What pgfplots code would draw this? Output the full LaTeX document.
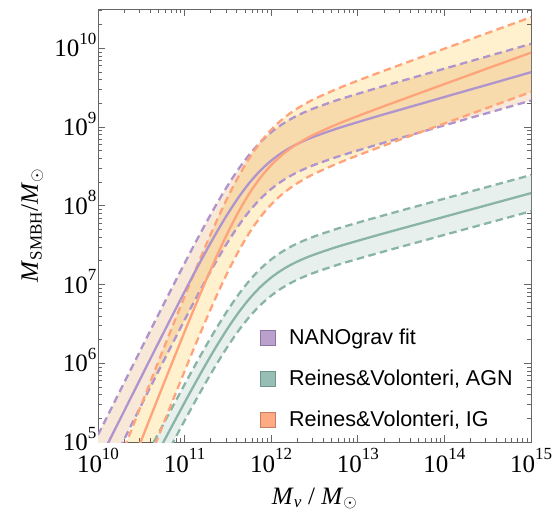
\documentclass[border=0pt]{standalone}
\usepackage{pgfplots}
\pgfplotsset{compat=1.18}
\usepackage{pgfplotstable}
\usepgfplotslibrary{fillbetween}
\usepackage{fontspec}
\setmainfont{Liberation Serif}
\newfontfamily\sansf{Liberation Sans}
\definecolor{pcol}{RGB}{176,148,206}
\definecolor{ocol}{RGB}{255,163,122}
\definecolor{gcol}{RGB}{138,180,165}
\definecolor{pfill}{RGB}{247,232,215}
\definecolor{ofill}{RGB}{255,241,205}
\definecolor{gfill}{RGB}{232,240,238}
\definecolor{psw}{RGB}{185,160,205}
\definecolor{pswb}{RGB}{140,115,160}
\definecolor{gsw}{RGB}{150,190,180}
\definecolor{gswb}{RGB}{110,150,140}
\definecolor{osw}{RGB}{255,170,130}
\definecolor{oswb}{RGB}{195,125,95}
\newcommand{\pw}[1]{10\raisebox{12.5pt}{\fontsize{17}{17}\selectfont #1}}
% log10(M_v/Msun), log10(M_SMBH/Msun): centre, upper, lower for each relation
\pgfplotstableread{
x pc pu pl oc ou ol gc gu gl
10.0 4.730 5.090 4.370 3.624 4.074 3.124 3.420 3.650 3.190
10.25 5.279 5.639 4.919 4.324 4.774 3.824 3.944 4.174 3.714
10.5 5.827 6.187 5.467 5.021 5.471 4.521 4.467 4.697 4.237
10.75 6.373 6.733 6.013 5.716 6.166 5.216 4.988 5.218 4.758
11.0 6.910 7.270 6.550 6.400 6.850 5.900 5.501 5.731 5.271
11.125 7.173 7.533 6.813 6.734 7.184 6.234 5.752 5.982 5.522
11.25 7.428 7.788 7.068 7.059 7.509 6.559 5.996 6.226 5.766
11.375 7.673 8.033 7.313 7.371 7.821 6.871 6.229 6.459 5.999
11.5 7.902 8.262 7.542 7.663 8.113 7.163 6.448 6.678 6.218
11.625 8.111 8.471 7.751 7.928 8.378 7.428 6.647 6.877 6.417
11.75 8.294 8.654 7.934 8.161 8.611 7.661 6.822 7.052 6.592
11.875 8.448 8.808 8.088 8.357 8.807 7.857 6.969 7.199 6.739
12.0 8.574 8.934 8.214 8.517 8.967 8.017 7.089 7.319 6.859
12.125 8.675 9.035 8.315 8.646 9.096 8.146 7.186 7.416 6.956
12.25 8.757 9.117 8.397 8.750 9.200 8.250 7.264 7.494 7.034
12.375 8.824 9.184 8.464 8.835 9.285 8.335 7.328 7.558 7.098
12.5 8.881 9.241 8.521 8.908 9.358 8.408 7.382 7.612 7.152
12.75 8.978 9.338 8.618 9.031 9.481 8.531 7.475 7.705 7.245
13.0 9.063 9.423 8.703 9.140 9.590 8.640 7.556 7.786 7.326
13.25 9.145 9.505 8.785 9.244 9.694 8.744 7.634 7.864 7.404
13.5 9.224 9.584 8.864 9.345 9.795 8.845 7.710 7.940 7.480
13.75 9.303 9.663 8.943 9.446 9.896 8.946 7.785 8.015 7.555
14.0 9.382 9.742 9.022 9.546 9.996 9.046 7.861 8.091 7.631
14.25 9.461 9.821 9.101 9.646 10.096 9.146 7.936 8.166 7.706
14.5 9.539 9.899 9.179 9.746 10.196 9.246 8.011 8.241 7.781
14.75 9.618 9.978 9.258 9.846 10.296 9.346 8.086 8.316 7.856
15.0 9.697 10.057 9.337 9.946 10.396 9.446 8.161 8.391 7.931
}\data
\begin{document}
\begin{tikzpicture}
\begin{axis}[
  name=ax,
  scale only axis, width=433pt, height=433pt,
  xmin=10, xmax=15, ymin=5, ymax=10.5,
  xtick={10,11,12,13,14,15},
  xticklabels={\pw{10},\pw{11},\pw{12},\pw{13},\pw{14},\pw{15}},
  ytick={5,6,7,8,9,10},
  yticklabels={\pw{5},\pw{6},\pw{7},\pw{8},\pw{9},\pw{10}},
  minor xtick={10.301,10.477,10.602,10.699,10.778,10.845,10.903,10.954,
    11.301,11.477,11.602,11.699,11.778,11.845,11.903,11.954,
    12.301,12.477,12.602,12.699,12.778,12.845,12.903,12.954,
    13.301,13.477,13.602,13.699,13.778,13.845,13.903,13.954,
    14.301,14.477,14.602,14.699,14.778,14.845,14.903,14.954},
  minor ytick={5.301,5.477,5.602,5.699,5.778,5.845,5.903,5.954,
    6.301,6.477,6.602,6.699,6.778,6.845,6.903,6.954,
    7.301,7.477,7.602,7.699,7.778,7.845,7.903,7.954,
    8.301,8.477,8.602,8.699,8.778,8.845,8.903,8.954,
    9.301,9.477,9.602,9.699,9.778,9.845,9.903,9.954,
    10.301,10.477},
  tick align=inside, tick pos=both,
  major tick length=7pt, minor tick length=4pt,
  tick style={draw=black!60, line width=0.7pt},
  axis line style={draw=black!60, line width=0.8pt},
  ticklabel style={font=\fontsize{25}{25}\selectfont},
  xticklabel style={anchor=base, inner sep=0pt, yshift=-30pt},
  yticklabel style={anchor=base east, inner sep=0pt, xshift=-1.5pt, yshift=-8.6pt},
  legend style={at={(0.374,0.266)}, anchor=north west, draw=none, fill=none,
    inner sep=0pt, font=\sansf\fontsize{21.5}{25}\selectfont, row sep=20pt,
    /tikz/every odd column/.append style={column sep=11pt}},
  legend cell align=left,
]
\addplot[name path=PU, draw=none, smooth, forget plot] table[x=x,y=pu]{\data};
\addplot[name path=PL, draw=none, smooth, forget plot] table[x=x,y=pl]{\data};
\addplot[name path=OU, draw=none, smooth, forget plot] table[x=x,y=ou]{\data};
\addplot[name path=OL, draw=none, smooth, forget plot] table[x=x,y=ol]{\data};
\addplot[name path=GU, draw=none, smooth, forget plot] table[x=x,y=gu]{\data};
\addplot[name path=GL, draw=none, smooth, forget plot] table[x=x,y=gl]{\data};
\addplot[fill=pfill, draw=none, forget plot] fill between[of=PU and PL];
\addplot[fill=ofill, draw=none, forget plot, blend mode=multiply] fill between[of=OU and OL];
\addplot[fill=gfill, draw=none, forget plot] fill between[of=GU and GL];
\pgfplotsset{every axis plot/.append style={line width=2.3pt, smooth}}
\addplot[gcol, dash pattern=on 7.5pt off 4.5pt, forget plot] table[x=x,y=gu]{\data};
\addplot[gcol, dash pattern=on 7.5pt off 4.5pt, forget plot] table[x=x,y=gl]{\data};
\addplot[gcol, forget plot] table[x=x,y=gc]{\data};
\addplot[pcol, dash pattern=on 7.5pt off 4.5pt, forget plot] table[x=x,y=pu]{\data};
\addplot[pcol, dash pattern=on 7.5pt off 4.5pt, forget plot] table[x=x,y=pl]{\data};
\addplot[ocol, dash pattern=on 7.5pt off 4.5pt, forget plot] table[x=x,y=ou]{\data};
\addplot[ocol, dash pattern=on 7.5pt off 4.5pt, forget plot] table[x=x,y=ol]{\data};
\addplot[pcol, forget plot] table[x=x,y=pc]{\data};
\addplot[ocol, forget plot] table[x=x,y=oc]{\data};
\addlegendimage{legend image code/.code={\draw[fill=psw,draw=pswb,line width=1pt] (0pt,-7.5pt) rectangle (15pt,7.5pt);}}
\addlegendentry{NANOgrav fit}
\addlegendimage{legend image code/.code={\draw[fill=gsw,draw=gswb,line width=1pt] (0pt,-7.5pt) rectangle (15pt,7.5pt);}}
\addlegendentry{Reines\&Volonteri, AGN}
\addlegendimage{legend image code/.code={\draw[fill=osw,draw=oswb,line width=1pt] (0pt,-7.5pt) rectangle (15pt,7.5pt);}}
\addlegendentry{Reines\&Volonteri, IG}
\end{axis}
\node[rotate=90, anchor=base, font=\fontsize{25}{25}\selectfont] at ([xshift=-60pt]ax.west)
  {\textit{M}\textsubscript{\fontsize{17}{17}\selectfont SMBH}/\textit{M}\textsubscript{$\odot$}};
\node[anchor=base, font=\fontsize{25}{25}\selectfont] at ([yshift=-62pt]ax.south)
  {\textit{M}\textsubscript{\fontsize{17}{17}\selectfont\textit{v}} / \textit{M}\textsubscript{$\odot$}};
\pgfresetboundingbox
\path[use as bounding box] ([xshift=-98pt,yshift=-77pt]ax.south west) rectangle ([xshift=25pt,yshift=9pt]ax.north east);
\end{tikzpicture}
\end{document}
